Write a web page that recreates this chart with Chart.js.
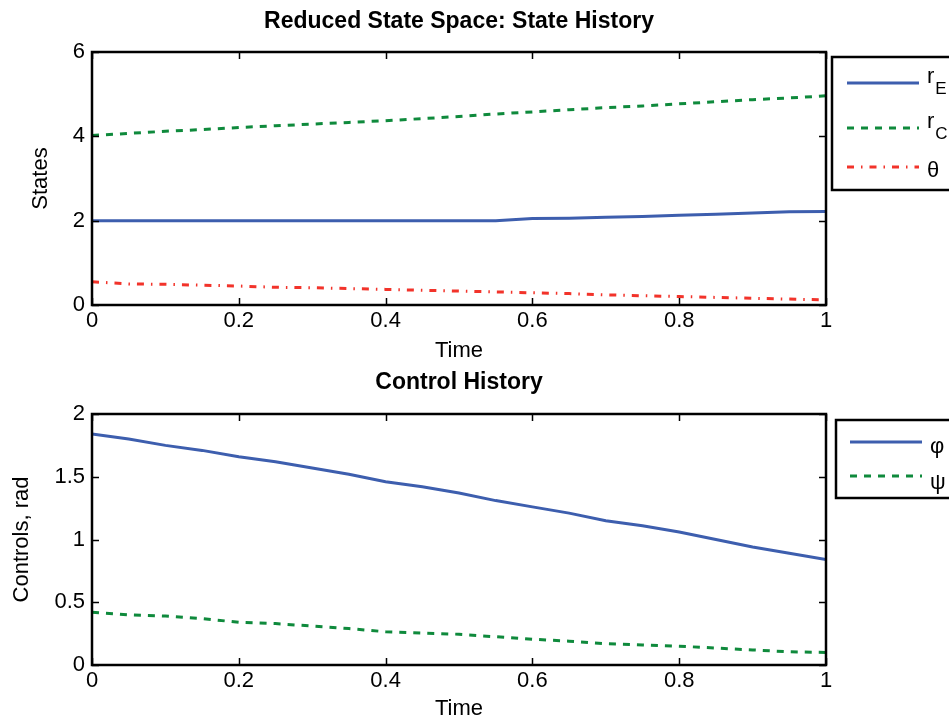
<!DOCTYPE html>
<html lang="en">
<head>
<meta charset="UTF-8">
<title>Reduced State Space</title>
<script src="https://cdn.jsdelivr.net/npm/chart.js"></script>
<style>
    body {
        margin: 0;
        background: #fff;
        overflow: hidden;
    }
    .panel {
        position: absolute;
        left: 0;
        width: 949px;
    }
    #statePanel { top: 0; height: 364px; }
    #controlPanel { top: 364px; height: 358px; }
</style>
</head>
<body>
<div class="panel" id="statePanel"><canvas id="stateChart" width="949" height="364"></canvas></div>
<div class="panel" id="controlPanel"><canvas id="controlChart" width="949" height="358"></canvas></div>
<script>
// time grid shared by both panels
const time = [0, 0.05, 0.1, 0.15, 0.2, 0.25, 0.3, 0.35, 0.4, 0.45, 0.5,
              0.55, 0.6, 0.65, 0.7, 0.75, 0.8, 0.85, 0.9, 0.95, 1];

// state history
const rE    = [2.00, 2.00, 2.00, 2.00, 2.00, 2.00, 2.00, 2.00, 2.00, 2.00, 2.00,
               2.00, 2.05, 2.06, 2.08, 2.10, 2.13, 2.15, 2.18, 2.21, 2.22];
const rC    = [4.02, 4.07, 4.12, 4.16, 4.21, 4.25, 4.29, 4.33, 4.37, 4.42, 4.47,
               4.53, 4.58, 4.63, 4.68, 4.72, 4.77, 4.82, 4.87, 4.91, 4.96];
const theta = [0.55, 0.50, 0.49, 0.47, 0.45, 0.42, 0.41, 0.39, 0.37, 0.35, 0.33,
               0.31, 0.29, 0.27, 0.24, 0.22, 0.20, 0.18, 0.16, 0.14, 0.12];

// control history
const phi = [1.84, 1.80, 1.75, 1.71, 1.66, 1.62, 1.57, 1.52, 1.46, 1.42, 1.37,
             1.31, 1.26, 1.21, 1.15, 1.11, 1.06, 1.00, 0.94, 0.89, 0.84];
const psi = [0.42, 0.40, 0.39, 0.37, 0.34, 0.33, 0.31, 0.29, 0.265, 0.255, 0.245,
             0.225, 0.205, 0.19, 0.17, 0.16, 0.15, 0.135, 0.12, 0.105, 0.10];

const stateNames = ['r_E', 'r_C', 'θ'];
const controlNames = ['φ', 'ψ'];

// ticks
const timeTicks = [0, 0.2, 0.4, 0.6, 0.8, 1];
const timeTickLabels = ['0', '0.2', '0.4', '0.6', '0.8', '1'];
const stateTicks = [0, 2, 4, 6];
const stateTickLabels = ['0', '2', '4', '6'];
const controlTicks = [0, 0.5, 1, 1.5, 2];
const controlTickLabels = ['0', '0.5', '1', '1.5', '2'];

const BLUE = '#3d5eae';
const GREEN = '#0f8a3c';
const RED = '#f2332a';
const FONT = "'Liberation Sans', Arial, sans-serif";

Chart.defaults.font.family = FONT;
Chart.defaults.color = '#000';

function points(ys) {
    return ys.map((y, i) => ({ x: time[i], y: y }));
}

// box + inward ticks on all four sides, matlab style
const matlabAxes = {
    id: 'matlabAxes',
    afterDatasetsDraw(chart) {
        const { ctx, chartArea: a, scales } = chart;
        const x = scales.x, y = scales.y;
        ctx.save();
        ctx.strokeStyle = '#000';
        ctx.lineWidth = 1.5;
        ctx.beginPath();
        x.ticks.forEach(t => {
            const px = Math.round(x.getPixelForValue(t.value)) + 0.5;
            ctx.moveTo(px, a.bottom); ctx.lineTo(px, a.bottom - 7);
            ctx.moveTo(px, a.top); ctx.lineTo(px, a.top + 7);
        });
        y.ticks.forEach(t => {
            const py = Math.round(y.getPixelForValue(t.value)) + 0.5;
            ctx.moveTo(a.left, py); ctx.lineTo(a.left + 7, py);
            ctx.moveTo(a.right, py); ctx.lineTo(a.right - 7, py);
        });
        ctx.stroke();
        ctx.lineWidth = 2.5;
        ctx.strokeRect(a.left, a.top, a.right - a.left, a.bottom - a.top);
        ctx.restore();
    }
};

// legend box sitting right of the axes, cut by the window edge
const boxLegend = {
    id: 'boxLegend',
    afterDraw(chart, args, opts) {
        const ctx = chart.ctx;
        ctx.save();
        ctx.fillStyle = '#fff';
        ctx.fillRect(opts.left, opts.top, 200, opts.bottom - opts.top);
        ctx.strokeStyle = '#000';
        ctx.lineWidth = 2.5;
        ctx.strokeRect(opts.left, opts.top, 200, opts.bottom - opts.top);
        chart.data.datasets.forEach((ds, i) => {
            const yy = opts.rows[i];
            ctx.strokeStyle = ds.borderColor;
            ctx.lineWidth = ds.borderWidth;
            ctx.setLineDash(ds.borderDash || []);
            ctx.beginPath();
            ctx.moveTo(opts.lineFrom, yy);
            ctx.lineTo(opts.lineTo, yy);
            ctx.stroke();
            ctx.setLineDash([]);
            const parts = ds.label.split('_');
            ctx.fillStyle = '#000';
            ctx.textAlign = 'left';
            ctx.textBaseline = 'alphabetic';
            ctx.font = '22px ' + FONT;
            ctx.fillText(parts[0], opts.textX, yy + opts.baseShift[i]);
            if (parts[1]) {
                const w = ctx.measureText(parts[0]).width;
                ctx.font = '17px ' + FONT;
                ctx.fillText(parts[1], opts.textX + w + 1, yy + opts.baseShift[i] + 11);
            }
        });
        ctx.restore();
    }
};

function makeChart(id, cfg) {
    return new Chart(document.getElementById(id), {
        type: 'line',
        data: { datasets: cfg.datasets },
        options: {
            responsive: false,
            animation: false,
            layout: { padding: { left: 0, right: 123, top: 0, bottom: 0 } },
            elements: { point: { radius: 0 }, line: { tension: 0 } },
            scales: {
                x: {
                    type: 'linear', min: 0, max: 1,
                    afterBuildTicks: s => { s.ticks = timeTicks.map(v => ({ value: v })); },
                    ticks: {
                        callback: (v, i) => timeTickLabels[i],
                        autoSkip: false, maxRotation: 0, padding: 3,
                        font: { size: 22 }
                    },
                    grid: { display: false, drawTicks: false },
                    border: { display: false },
                    title: { display: true, text: 'Time', font: { size: 22 }, padding: { top: 0, bottom: 0 } },
                    afterFit: s => { s.height = cfg.xHeight; }
                },
                y: {
                    type: 'linear', min: cfg.yTicks[0], max: cfg.yTicks[cfg.yTicks.length - 1],
                    afterBuildTicks: s => { s.ticks = cfg.yTicks.map(v => ({ value: v })); },
                    ticks: {
                        callback: (v, i) => cfg.yTickLabels[i],
                        autoSkip: false, padding: 7,
                        font: { size: 22 }
                    },
                    grid: { display: false, drawTicks: false },
                    border: { display: false },
                    title: { display: true, text: cfg.yTitle, font: { size: 22 }, padding: { top: cfg.yTitlePad, bottom: 0 } },
                    afterFit: s => { s.width = 92; }
                }
            },
            plugins: {
                legend: { display: false },
                tooltip: { enabled: false },
                title: {
                    display: true, text: cfg.title,
                    fullSize: false,
                    font: { size: 23, weight: 'bold' },
                    padding: cfg.titlePad
                },
                boxLegend: cfg.legend
            }
        },
        plugins: [matlabAxes, boxLegend]
    });
}

makeChart('stateChart', {
    title: 'Reduced State Space: State History',
    titlePad: { top: 8, bottom: 16.4 },
    yTitle: 'States',
    yTitlePad: 28,
    yTicks: stateTicks,
    yTickLabels: stateTickLabels,
    xHeight: 59,
    datasets: [
        { label: stateNames[0], data: points(rE), borderColor: BLUE, borderWidth: 3 },
        { label: stateNames[1], data: points(rC), borderColor: GREEN, borderWidth: 3, borderDash: [7, 7] },
        { label: stateNames[2], data: points(theta), borderColor: RED, borderWidth: 3, borderDash: [7, 7, 1.5, 7] }
    ],
    legend: {
        left: 832, top: 57, bottom: 190,
        rows: [83, 128, 167],
        baseShift: [0, 0, 10],
        lineFrom: 847, lineTo: 919, textX: 927
    }
});

makeChart('controlChart', {
    title: 'Control History',
    titlePad: { top: 5, bottom: 17.4 },
    yTitle: 'Controls, rad',
    yTitlePad: 9,
    yTicks: controlTicks,
    yTickLabels: controlTickLabels,
    xHeight: 57,
    datasets: [
        { label: controlNames[0], data: points(phi), borderColor: BLUE, borderWidth: 3 },
        { label: controlNames[1], data: points(psi), borderColor: GREEN, borderWidth: 3, borderDash: [7, 7] }
    ],
    legend: {
        left: 836, top: 56, bottom: 134,
        rows: [78, 112],
        baseShift: [11, 13],
        lineFrom: 850, lineTo: 922, textX: 930
    }
});
</script>
</body>
</html>
